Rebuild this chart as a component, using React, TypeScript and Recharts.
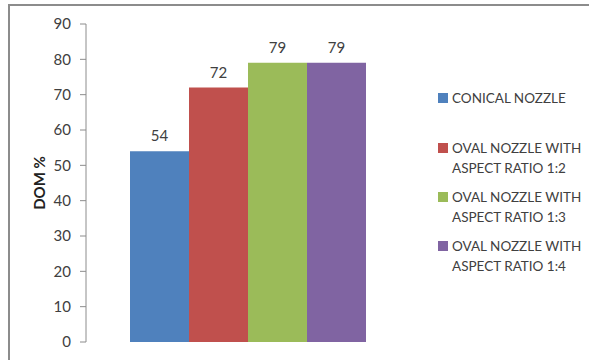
import { BarChart, Bar, XAxis, YAxis, LabelList } from "recharts"

const categories = ["DOM"]
const seriesNames = [
  ["CONICAL NOZZLE"],
  ["OVAL NOZZLE WITH", "ASPECT RATIO 1:2"],
  ["OVAL NOZZLE WITH", "ASPECT RATIO 1:3"],
  ["OVAL NOZZLE WITH", "ASPECT RATIO 1:4"],
]
const seriesValues = [54, 72, 79, 79]
const seriesColors = ["#4f81bd", "#c0504d", "#9bbb59", "#8064a2"]
const yTicks = [0, 10, 20, 30, 40, 50, 60, 70, 80, 90]

const keys = seriesValues.map((_, i) => `s${i}`)
const data = categories.map((name) => {
  const row: Record<string, string | number> = { name }
  seriesValues.forEach((v, i) => { row[keys[i]] = v })
  return row
})

const font = "Lato, 'Liberation Sans', Arial, sans-serif"
const textColor = "#404040"
const legendTops = [88, 138, 187, 236]

export default function App() {
  return (
    <div style={{ position: "absolute", left: 0, top: 0, width: 589, height: 360, overflow: "hidden", background: "#fff", fontFamily: font }}>
      <div style={{ position: "absolute", left: 8, top: 4, width: 700, height: 500, borderLeft: "2px solid #8c8c8c", borderTop: "2px solid #8c8c8c" }} />
      <div style={{ position: "absolute", left: 0, top: 0 }}>
        <BarChart
          width={589}
          height={360}
          data={data}
          margin={{ top: 24, right: 178, bottom: 18, left: 0 }}
          barGap={0}
          barCategoryGap={44}
        >
          <XAxis dataKey="name" hide />
          <YAxis
            width={86}
            domain={[0, 90]}
            ticks={yTicks}
            interval={0}
            stroke="#8c8c8c"
            tickSize={6}
            tickMargin={9}
            tick={{ fontSize: 15, fill: textColor, fontFamily: font }}
            label={{
              value: "DOM %",
              angle: -90,
              position: "insideLeft",
              offset: 40,
              style: { textAnchor: "middle", fontWeight: "bold", fontSize: 15, fill: "#222", fontFamily: font },
            }}
          />
          {keys.map((k, i) => (
            <Bar key={k} dataKey={k} fill={seriesColors[i]} isAnimationActive={false}>
              <LabelList dataKey={k} position="top" offset={10} style={{ fontSize: 15, fill: textColor, fontFamily: font }} />
            </Bar>
          ))}
        </BarChart>
      </div>
      {seriesNames.map((lines, i) => (
        <div key={i} style={{ position: "absolute", left: 438, top: legendTops[i], fontSize: 13.5, color: textColor, lineHeight: "20px" }}>
          <span style={{ position: "absolute", left: 0, top: 5, width: 10, height: 10, background: seriesColors[i] }} />
          <div style={{ marginLeft: 14, whiteSpace: "nowrap" }}>
            {lines.map((l) => <div key={l}>{l}</div>)}
          </div>
        </div>
      ))}
    </div>
  )
}
